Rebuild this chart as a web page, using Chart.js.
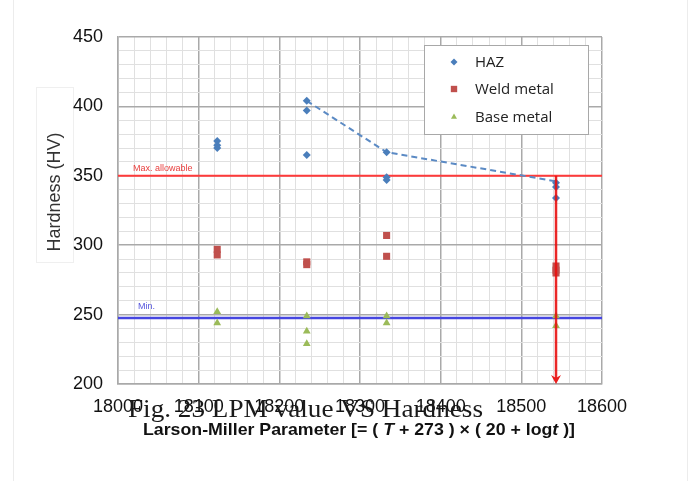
<!DOCTYPE html>
<html>
<head>
<meta charset="utf-8">
<script src="https://cdn.jsdelivr.net/npm/chart.js@4/dist/chart.umd.min.js"></script>
<style>
  html, body { margin: 0; padding: 0; background: #fff; }
  #wrap { width: 693px; height: 481px; }
</style>
</head>
<body>
<div id="wrap"><canvas id="lmpChart" width="693" height="481"></canvas></div>
<script>
// readings (LMP vs hardness)
const hazX = [18123, 18123, 18123, 18234, 18234, 18234, 18333, 18333, 18333, 18543, 18543, 18543];
const hazY = [375, 372, 370, 404, 397, 365, 367, 349, 347, 345, 342, 334];
const weldX = [18123, 18123, 18234, 18234, 18333, 18333, 18543, 18543, 18543];
const weldY = [297, 293, 288, 286, 307, 292, 285, 282, 280];
const baseX = [18123, 18123, 18234, 18234, 18234, 18333, 18333, 18543, 18543];
const baseY = [252, 244, 249, 238, 229, 249, 244, 249, 242];
const trendX = [18234, 18333, 18543];
const trendY = [404, 367, 346];
const maxAllowable = 350;
const minRequired = 247.5;
const arrowX = 18543;
const xTicks = [18000, 18100, 18200, 18300, 18400, 18500, 18600];
const yTicks = [200, 250, 300, 350, 400, 450];

const toPts = (xs, ys) => xs.map((x, i) => ({ x: x, y: ys[i] }));

const extras = {
	id: "extras",
	beforeDraw(chart) {
		const ctx = chart.ctx;
		ctx.save();
		ctx.fillStyle = "#fff";
		ctx.fillRect(0, 0, chart.width, chart.height);
		// faint frame of the original figure
		ctx.strokeStyle = "#ececec";
		ctx.lineWidth = 1;
		ctx.beginPath();
		ctx.moveTo(13.5, 0);
		ctx.lineTo(13.5, 481);
		ctx.moveTo(687.5, 0);
		ctx.lineTo(687.5, 481);
		ctx.stroke();
		ctx.strokeStyle = "#efefef";
		ctx.strokeRect(36.5, 87.5, 37, 175);
		ctx.restore();
	},
	afterDatasetsDraw(chart) {
		const ctx = chart.ctx;
		const xs = chart.scales.x;
		const ys = chart.scales.y;
		const area = chart.chartArea;
		ctx.save();
		// red arrow down from the max line
		const ax = xs.getPixelForValue(arrowX);
		const top = ys.getPixelForValue(maxAllowable);
		const bottom = area.bottom;
		ctx.strokeStyle = "rgba(232, 16, 16, 0.9)";
		ctx.fillStyle = "rgba(232, 16, 16, 0.95)";
		ctx.lineWidth = 2.5;
		ctx.beginPath();
		ctx.moveTo(ax, top);
		ctx.lineTo(ax, bottom - 6);
		ctx.stroke();
		ctx.beginPath();
		ctx.moveTo(ax - 5, bottom - 9);
		ctx.lineTo(ax, bottom);
		ctx.lineTo(ax + 5, bottom - 9);
		ctx.lineTo(ax, bottom - 6);
		ctx.closePath();
		ctx.fill();

		ctx.font = "9px 'Liberation Sans', Arial, sans-serif";
		ctx.textAlign = "left";
		ctx.textBaseline = "alphabetic";
		ctx.fillStyle = "#e8403f";
		ctx.fillText("Max. allowable", 133, ys.getPixelForValue(maxAllowable) - 5);
		ctx.fillStyle = "#5555dd";
		ctx.fillText("Min.", 138, ys.getPixelForValue(minRequired) - 9);
		ctx.restore();
	},
	afterDraw(chart) {
		const ctx = chart.ctx;
		ctx.save();

		// legend box
		ctx.fillStyle = "#fff";
		ctx.fillRect(424, 45, 164, 89);
		ctx.strokeStyle = "#a8a8a8";
		ctx.lineWidth = 1;
		ctx.strokeRect(424.5, 45.5, 164, 89);
		const rows = [62, 89, 117];
		const shown = chart.data.datasets.filter((d) => d.inLegend);
		ctx.font = "15px 'Open Sans', sans-serif";
		ctx.textBaseline = "middle";
		shown.forEach((d, i) => {
			ctx.fillStyle = d.backgroundColor;
			ctx.strokeStyle = d.backgroundColor;
			Chart.helpers.drawPoint(ctx, { pointStyle: d.pointStyle, radius: d.legendRadius, rotation: 0, borderWidth: 0 }, 454, rows[i]);
			ctx.fillStyle = "#222";
			ctx.textAlign = "left";
			ctx.fillText(d.label, 475, rows[i] + 1);
		});

		// y axis title
		ctx.save();
		ctx.translate(55, 192);
		ctx.rotate(-Math.PI / 2);
		ctx.font = "18px 'Liberation Sans', Arial, sans-serif";
		ctx.fillStyle = "#333";
		ctx.textAlign = "center";
		ctx.textBaseline = "middle";
		ctx.fillText("Hardness (HV)", 0, 0);
		ctx.restore();

		// x axis title with italic T and t
		const parts = [
			["Larson-Miller Parameter [= ( ", false],
			["T", true],
			[" + 273 ) \u00d7 ( 20 + log", false],
			["t", true],
			[" )]", false],
		];
		const fnt = (it) => (it ? "italic " : "") + "bold 17px 'Liberation Sans', Arial, sans-serif";
		let total = 0;
		parts.forEach((p) => {
			ctx.font = fnt(p[1]);
			total += ctx.measureText(p[0]).width;
		});
		ctx.save();
		ctx.translate(143, 435);
		ctx.scale(432 / total, 1);
		ctx.fillStyle = "#111";
		ctx.textAlign = "left";
		ctx.textBaseline = "alphabetic";
		let cx = 0;
		parts.forEach((p) => {
			ctx.font = fnt(p[1]);
			ctx.fillText(p[0], cx, 0);
			cx += ctx.measureText(p[0]).width;
		});
		ctx.restore();

		// caption laid over the axis labels, as in the source
		const cap = "Fig. 23 LPM value VS Hardness";
		ctx.font = "26px 'Liberation Serif', 'Times New Roman', serif";
		const cw = ctx.measureText(cap).width;
		ctx.save();
		ctx.translate(128, 417);
		ctx.scale(355 / cw, 1);
		ctx.fillStyle = "#1a1a1a";
		ctx.textAlign = "left";
		ctx.textBaseline = "alphabetic";
		ctx.fillText(cap, 0, 0);
		ctx.restore();

		ctx.restore();
	},
};

const majorGrid = "#a9a9a9";
const minorGrid = "#e0e0e0";

new Chart(document.getElementById("lmpChart").getContext("2d"), {
	type: "scatter",
	data: {
		datasets: [
			{
				label: "Max. allowable",
				type: "line",
				data: [{ x: xTicks[0], y: maxAllowable }, { x: xTicks[xTicks.length - 1], y: maxAllowable }],
				borderColor: "#ff3a3a",
				borderWidth: 2,
				pointRadius: 0,
				order: 5,
			},
			{
				label: "Min.",
				type: "line",
				data: [{ x: xTicks[0], y: minRequired }, { x: xTicks[xTicks.length - 1], y: minRequired }],
				borderColor: "#4646e0",
				borderWidth: 2.5,
				pointRadius: 0,
				order: 5,
			},
			{
				label: "HAZ trend",
				type: "line",
				data: toPts(trendX, trendY),
				borderColor: "#5b8ac4",
				borderWidth: 2,
				borderDash: [6, 4],
				pointRadius: 0,
				order: 4,
			},
			{
				label: "HAZ",
				inLegend: true,
				data: toPts(hazX, hazY),
				pointStyle: "rectRot",
				pointRadius: 4,
				legendRadius: 3.5,
				backgroundColor: "#4a7ebb",
				borderColor: "#4a7ebb",
				borderWidth: 0,
				order: 1,
			},
			{
				label: "Weld metal",
				inLegend: true,
				data: toPts(weldX, weldY),
				pointStyle: "rect",
				pointRadius: 5,
				legendRadius: 4.5,
				backgroundColor: "#c0504d",
				borderColor: "#c0504d",
				borderWidth: 0,
				order: 2,
			},
			{
				label: "Base metal",
				inLegend: true,
				data: toPts(baseX, baseY),
				pointStyle: "triangle",
				pointRadius: 4.5,
				legendRadius: 3.5,
				backgroundColor: "#9bbb59",
				borderColor: "#9bbb59",
				borderWidth: 0,
				order: 3,
			},
		],
	},
	options: {
		responsive: false,
		animation: false,
		layout: { padding: { top: 37, right: 91, left: 0, bottom: 0 } },
		plugins: {
			legend: { display: false },
			tooltip: { enabled: false },
		},
		scales: {
			x: {
				type: "linear",
				min: xTicks[0],
				max: xTicks[xTicks.length - 1],
				afterFit: (s) => { s.height = 97; },
				border: { color: majorGrid, width: 1.5 },
				grid: {
					drawTicks: false,
					color: (c) => (xTicks.includes(c.tick.value) ? majorGrid : minorGrid),
					lineWidth: (c) => (xTicks.includes(c.tick.value) ? 1.5 : 1),
				},
				ticks: {
					stepSize: 20,
					maxTicksLimit: 100,
					autoSkip: false,
					maxRotation: 0,
					padding: 12,
					color: "#111",
					font: { family: "'Liberation Sans', Arial, sans-serif", size: 18 },
					callback: (v) => (xTicks.includes(v) ? String(v) : ""),
				},
			},
			y: {
				min: yTicks[0],
				max: yTicks[yTicks.length - 1],
				afterFit: (s) => { s.width = 118; },
				border: { color: majorGrid, width: 1.5 },
				grid: {
					drawTicks: false,
					color: (c) => (yTicks.includes(c.tick.value) ? majorGrid : minorGrid),
					lineWidth: (c) => (yTicks.includes(c.tick.value) ? 1.5 : 1),
				},
				ticks: {
					stepSize: 10,
					maxTicksLimit: 100,
					autoSkip: false,
					padding: 15,
					color: "#111",
					font: { family: "'Liberation Sans', Arial, sans-serif", size: 18 },
					callback: (v) => (yTicks.includes(v) ? String(v) : ""),
				},
			},
		},
	},
	plugins: [extras],
});
</script>
</body>
</html>
